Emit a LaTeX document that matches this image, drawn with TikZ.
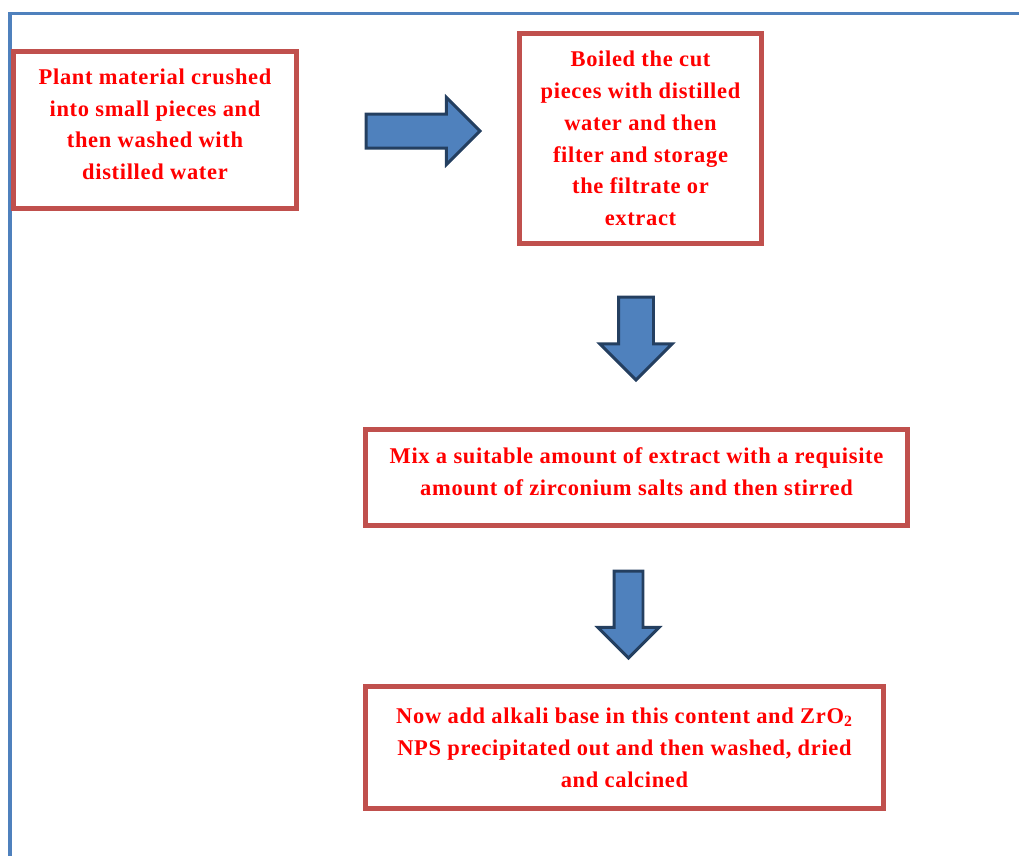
\documentclass[tikz,border=0pt]{standalone}
\usepackage{fontspec}
\setmainfont{Liberation Serif}
\usetikzlibrary{shapes.arrows}
\definecolor{boxred}{HTML}{C0504D}
\definecolor{arrowblue}{HTML}{4F81BD}
\definecolor{arrowedge}{HTML}{243F60}
\tikzset{
  stepbox/.style={draw=boxred,line width=0.1cm,fill=white,align=center,inner sep=0pt,
    text=red,font=\fontsize{12.8}{18.1}\selectfont\bfseries\addfontfeature{LetterSpace=3}},
  blockarrow/.style={single arrow,draw=arrowedge,fill=arrowblue,line width=0.06cm,
    inner xsep=0pt,single arrow tip angle=90,anchor=tail},
  frameline/.style={draw=arrowblue,line width=0.07cm}
}
\begin{document}
\begin{tikzpicture}[x=0.02cm,y=-0.02cm]
\path[use as bounding box] (0,0) rectangle (1019,856);
\draw[frameline] (10,856) -- (10,13.3) -- (1019,13.3);
\node[stepbox,minimum width=5.66cm,minimum height=3.14cm] (crush) at (155,130)
  {Plant material crushed\\into small pieces and\\then washed with\\distilled water\\[-17pt]\strut};
\node[stepbox,minimum width=4.84cm,minimum height=4.20cm] (boil) at (640.5,138.5)
  {Boiled the cut\\pieces with distilled\\water and then\\filter and storage\\the filtrate or\\extract};
\node[stepbox,minimum width=10.84cm,minimum height=1.92cm] (mix) at (636.5,477.5)
  {Mix a suitable amount of extract with a requisite\\amount of zirconium salts and then stirred\\[-17pt]\strut};
\node[stepbox,minimum width=10.36cm,minimum height=2.44cm] (precip) at (624.5,747.5)
  {Now add alkali base in this content and ZrO\textsubscript{2}\\NPS precipitated out and then washed, dried\\and calcined};
\node[blockarrow,minimum height=2.28cm,inner ysep=0.31cm,single arrow head extend=0.33cm] (a1) at (364.5,131) {};
\node[blockarrow,rotate=-90,minimum height=1.66cm,inner ysep=0.32cm,single arrow head extend=0.37cm] (a2) at (636,295.5) {};
\node[blockarrow,rotate=-90,minimum height=1.74cm,inner ysep=0.26cm,single arrow head extend=0.32cm] (a3) at (628.5,569.5) {};
\end{tikzpicture}
\end{document}
